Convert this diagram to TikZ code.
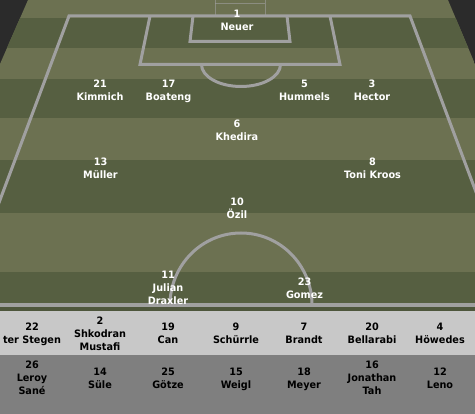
\documentclass[tikz,border=0pt]{standalone}
\usepackage{fontspec}
\setmainfont{DejaVu Sans}[FakeStretch=0.95]
\definecolor{bgdark}{RGB}{43,43,43}
\definecolor{lightstripe}{RGB}{108,113,81}
\definecolor{darkstripe}{RGB}{86,95,65}
\definecolor{linegrey}{RGB}{160,160,160}
\definecolor{benchlight}{RGB}{200,200,200}
\definecolor{benchdark}{RGB}{127,127,127}
\definecolor{edgeolive}{RGB}{78,86,60}
\begin{document}
\begin{tikzpicture}[x=1pt,y=-1pt,
  player/.style={anchor=north, align=center, inner sep=0pt, text=white,
    font=\fontsize{10.2}{13}\selectfont\bfseries},
  benchp/.style={player, text=black},
  fieldline/.style={draw=linegrey, line width=3pt, line join=miter},
  goalline/.style={draw=linegrey, line width=0.9pt, opacity=0.6}]
\useasboundingbox (0,0) rectangle (475,414);
% background
\fill[bgdark] (0,0) rectangle (475,311.5);
% grass
\begin{scope}
  \clip (28,0) -- (448,0) -- (475,64) -- (475,311.5) -- (0,311.5) -- (0,64) -- cycle;
  \fill[lightstripe] (0,0) rectangle (475,311.5);
  \fill[darkstripe] (0,18) rectangle (475,48);
  \fill[darkstripe] (0,79) rectangle (475,118);
  \fill[darkstripe] (0,160) rectangle (475,213);
  \fill[darkstripe] (0,272) rectangle (475,311.5);
\end{scope}
% field lines
\begin{scope}
  \clip (0,0) rectangle (475,304);
  \draw[goalline] (215,16) -- (215,0);
  \draw[goalline] (265,16) -- (265,0);
  \draw[goalline] (215,3) -- (265,3);
  \draw[fieldline] (-42,312) -- (69,16) -- (410,16) -- (521,312);
  \draw[fieldline] (150,16) -- (140,64.5) -- (340,64.5) -- (330,16);
  \draw[fieldline] (193,16) -- (190,41.5) -- (290,41.5) -- (287,16);
  \draw[fieldline] (201.5,64.5) arc[start angle=180, end angle=360, x radius=39.5pt, y radius=22pt];
  \draw[fieldline] (170,305) arc[start angle=180, end angle=0, x radius=71pt, y radius=72pt];
\end{scope}
\fill[linegrey] (0,303) rectangle (475,307.5);
\fill[edgeolive] (0,307.5) rectangle (475,311.5);
% bench
\fill[benchlight] (0,311.5) rectangle (475,355);
\fill[benchdark] (0,355) rectangle (475,414);
% players on the pitch
\node[player] (p1) at (237,10) {1\\Neuer};
\node[player] (p21) at (100,80) {21\\Kimmich};
\node[player] (p17) at (168.5,80) {17\\Boateng};
\node[player] (p5) at (304.5,80) {5\\Hummels};
\node[player] (p3) at (372,80) {3\\Hector};
\node[player] (p6) at (237,120) {6\\Khedira};
\node[player] (p13) at (100.5,158) {13\\Müller};
\node[player] (p8) at (372.5,158) {8\\Toni Kroos};
\node[player] (p10) at (237,198) {10\\Özil};
\node[player] (p11) at (168,271) {11\\Julian\\Draxler};
\node[player] (p23) at (304.5,277.5) {23\\Gomez};
% bench row 1
\node[benchp] (b22) at (32,323) {22\\ter Stegen};
\node[benchp] (b2) at (100,316.5) {2\\Shkodran\\Mustafi};
\node[benchp] (b19) at (168,323) {19\\Can};
\node[benchp] (b9) at (236,323) {9\\Schürrle};
\node[benchp] (b7) at (304,323) {7\\Brandt};
\node[benchp] (b20) at (372,323) {20\\Bellarabi};
\node[benchp] (b4) at (440,323) {4\\Höwedes};
% bench row 2
\node[benchp] (b26) at (32,361) {26\\Leroy\\Sané};
\node[benchp] (b14) at (100,367.5) {14\\Süle};
\node[benchp] (b25) at (168,367.5) {25\\Götze};
\node[benchp] (b15) at (236,367.5) {15\\Weigl};
\node[benchp] (b18) at (304,367.5) {18\\Meyer};
\node[benchp] (b16) at (372,361) {16\\Jonathan\\Tah};
\node[benchp] (b12) at (440,367.5) {12\\Leno};
\end{tikzpicture}
\end{document}
